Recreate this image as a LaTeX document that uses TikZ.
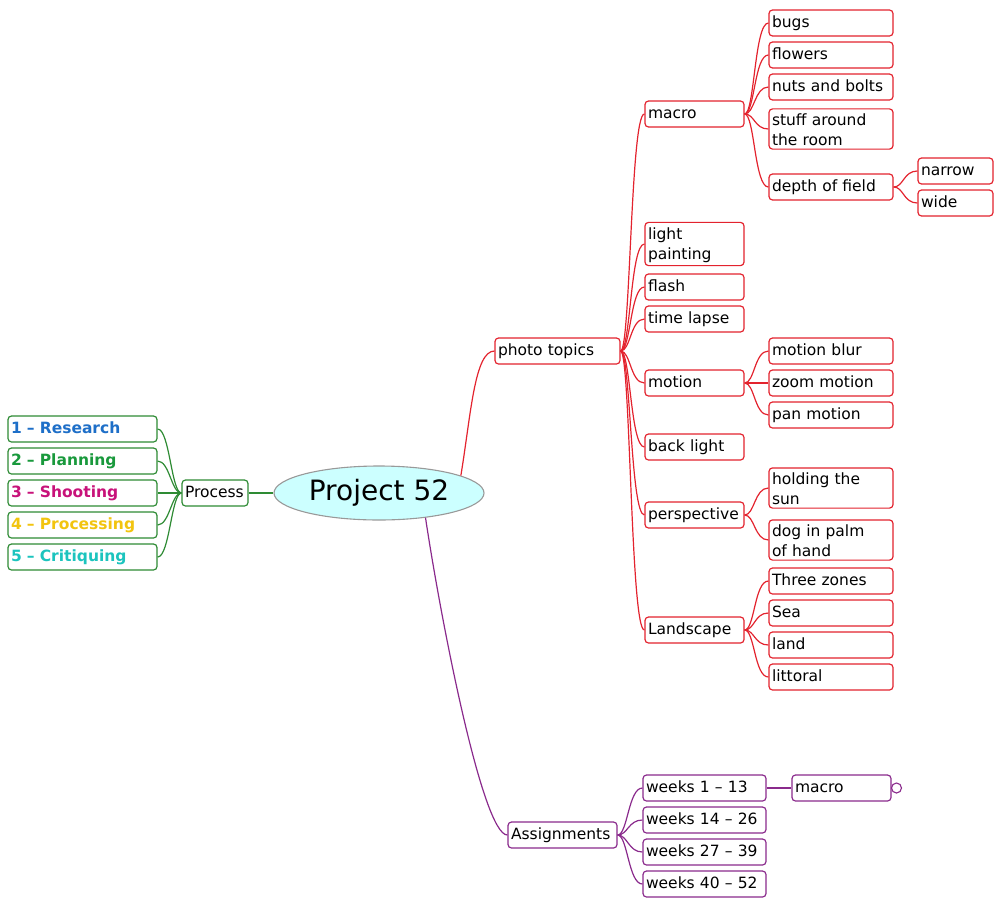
\documentclass[tikz,border=0pt]{standalone}
\usepackage{fontspec}
\setmainfont{DejaVu Sans}
\usepackage{tikz}
\usetikzlibrary{shapes.geometric}
\usepackage{xcolor}
\definecolor{mmred}{HTML}{E3232E}
\definecolor{mmgreen}{HTML}{2E8B34}
\definecolor{mmpurple}{HTML}{8A2A8C}
\definecolor{mmblue}{HTML}{1E6FC8}
\definecolor{mmleaf}{HTML}{19993C}
\definecolor{mmpink}{HTML}{C8127A}
\definecolor{mmyellow}{HTML}{F2C40F}
\definecolor{mmcyan}{HTML}{1CC4BE}
\definecolor{mmfill}{HTML}{CCFFFF}
\newcommand\mmfont{\fontsize{15.5}{20}\selectfont}

\tikzset{
  mmbox/.style={draw, rounded corners=3.5pt, line width=1.2pt, fill=white,
    font=\mmfont, align=left, inner xsep=3pt, inner ysep=3pt,
    execute at begin node=\strut},
  redbox/.style={mmbox, draw=mmred},
  greenbox/.style={mmbox, draw=mmgreen},
  purplebox/.style={mmbox, draw=mmpurple},
  stagebox/.style={greenbox, text width=143pt, font=\mmfont\bfseries, text=#1},
  redline/.style={mmred, line width=1.2pt},
  greenline/.style={mmgreen, line width=1.2pt},
  purpleline/.style={mmpurple, line width=1.2pt}
}

\begin{document}
\begin{tikzpicture}[x=1pt, y=-1pt]
  \useasboundingbox (0,0) rectangle (1000,908);

  \node[ellipse, draw=gray!80, fill=mmfill, line width=1.1pt, minimum width=210pt,
        minimum height=54pt, inner sep=0pt, font=\fontsize{28}{32}\selectfont]
        (root) at (379,493) {Project 52};

  % process
  \node[greenbox, text width=60pt] (process) at (215,493) {Process};
  \node[stagebox=mmblue] (research) at (82.5,429) {1 -- Research};
  \node[stagebox=mmleaf] (planning) at (82.5,461) {2 -- Planning};
  \node[stagebox=mmpink] (shooting) at (82.5,493) {3 -- Shooting};
  \node[stagebox=mmyellow] (processing) at (82.5,525) {4 -- Processing};
  \node[stagebox=mmcyan] (critiquing) at (82.5,557) {5 -- Critiquing};

  % photo topics
  \node[redbox, text width=119pt] (topics) at (557.5,351) {photo topics};
  \node[redbox, text width=93pt] (macro) at (694.5,114) {macro};
  \node[redbox, text width=93pt] (light) at (694.5,244) {light\\painting};
  \node[redbox, text width=93pt] (flash) at (694.5,287) {flash};
  \node[redbox, text width=93pt] (lapse) at (694.5,319) {time lapse};
  \node[redbox, text width=93pt] (motion) at (694.5,383) {motion};
  \node[redbox, text width=93pt] (back) at (694.5,447) {back light};
  \node[redbox, text width=93pt] (persp) at (694.5,515) {perspective};
  \node[redbox, text width=93pt] (landsc) at (694.5,630) {Landscape};

  \node[redbox, text width=118pt] (bugs) at (831,23) {bugs};
  \node[redbox, text width=118pt] (flowers) at (831,55) {flowers};
  \node[redbox, text width=118pt] (nuts) at (831,87) {nuts and bolts};
  \node[redbox, text width=118pt] (stuff) at (831,129) {stuff around\\the room};
  \node[redbox, text width=118pt] (dof) at (831,187) {depth of field};
  \node[redbox, text width=69pt] (narrow) at (955.5,171) {narrow};
  \node[redbox, text width=69pt] (wide) at (955.5,203) {wide};

  \node[redbox, text width=118pt] (blur) at (831,351) {motion blur};
  \node[redbox, text width=118pt] (zoom) at (831,383) {zoom motion};
  \node[redbox, text width=118pt] (pan) at (831,415) {pan motion};

  \node[redbox, text width=118pt] (sun) at (831,488) {holding the\\sun};
  \node[redbox, text width=118pt] (dog) at (831,540) {dog in palm\\of hand};

  \node[redbox, text width=118pt] (zones) at (831,581) {Three zones};
  \node[redbox, text width=118pt] (sea) at (831,613) {Sea};
  \node[redbox, text width=118pt] (land) at (831,645) {land};
  \node[redbox, text width=118pt] (littoral) at (831,677) {littoral};

  % assignments
  \node[purplebox, text width=103pt] (assign) at (562.5,835) {Assignments};
  \node[purplebox, text width=117pt] (wk1) at (704.5,788) {weeks 1 -- 13};
  \node[purplebox, text width=117pt] (wk2) at (704.5,820) {weeks 14 -- 26};
  \node[purplebox, text width=117pt] (wk3) at (704.5,852) {weeks 27 -- 39};
  \node[purplebox, text width=117pt] (wk4) at (704.5,884) {weeks 40 -- 52};
  \node[purplebox, text width=93pt] (amacro) at (841.5,788) {macro};
  \node[circle, draw=mmpurple, fill=white, line width=1.1pt, minimum size=10pt,
        inner sep=0pt] (knob) at (896.5,788) {};

  % connectors
  \draw[greenline] (process.east) -- (root.west);
  \foreach \c in {research,planning,shooting,processing,critiquing}
    \draw[greenline] (process.west) .. controls +(-10,0) and +(12,0) .. (\c.east);

  \draw[redline] (root.12) .. controls +(10,-60) and +(-20,0) .. (topics.west);
  \foreach \c in {macro,light,flash,lapse,motion,back,persp,landsc}
    \draw[redline] (topics.east) .. controls +(10,0) and +(-14,0) .. (\c.west);
  \foreach \c in {bugs,flowers,nuts,stuff,dof}
    \draw[redline] (macro.east) .. controls +(10,0) and +(-14,0) .. (\c.west);
  \foreach \c in {narrow,wide}
    \draw[redline] (dof.east) .. controls +(10,0) and +(-14,0) .. (\c.west);
  \foreach \c in {blur,zoom,pan}
    \draw[redline] (motion.east) .. controls +(10,0) and +(-14,0) .. (\c.west);
  \foreach \c in {sun,dog}
    \draw[redline] (persp.east) .. controls +(10,0) and +(-14,0) .. (\c.west);
  \foreach \c in {zones,sea,land,littoral}
    \draw[redline] (landsc.east) .. controls +(10,0) and +(-14,0) .. (\c.west);

  \draw[purpleline] (root.-28) .. controls +(15,100) and +(-25,0) .. (assign.west);
  \foreach \c in {wk1,wk2,wk3,wk4}
    \draw[purpleline] (assign.east) .. controls +(10,0) and +(-14,0) .. (\c.west);
  \draw[purpleline] (wk1.east) -- (amacro.west);
\end{tikzpicture}
\end{document}
